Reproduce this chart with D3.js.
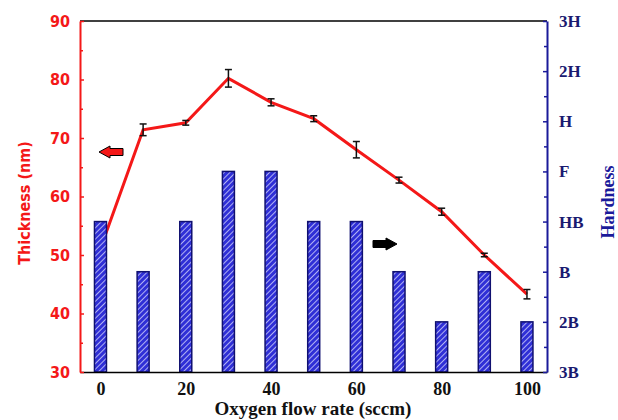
<!DOCTYPE html>
<html><head><meta charset="utf-8">
<script src="https://cdn.jsdelivr.net/npm/d3@7"></script>
<style>body{margin:0;background:#fff}svg{display:block}
.serif{font-family:"Liberation Serif","Times New Roman","DejaVu Serif",serif;font-weight:bold}</style>
</head><body>
<svg id="c" width="618" height="420"></svg>
<script>
const flow = [0,10,20,30,40,50,60,70,80,90,100];
const thickness = [51.1,71.4,72.6,80.2,76.1,73.3,68.0,62.8,57.4,50.0,43.3];
const thicknessErr = [0.8,1.0,0.4,1.5,0.6,0.5,1.4,0.5,0.6,0.3,0.8];
const hardnessLevels = ["3B","2B","B","HB","F","H","2H","3H"];
const hardness = ["HB","B","HB","F","F","HB","HB","B","2B","B","2B"];
const xTicks = [0,20,40,60,80,100];
const yTicks = [30,40,50,60,70,80,90];

const L=80,R=547,T=21,B=372;
const svg=d3.select("#c");
const x=d3.scaleLinear().domain([-4.8,104.7]).range([L,R]);
const y=d3.scaleLinear().domain([30,90]).range([B,T]);
const h=d3.scaleLinear().domain([0,hardnessLevels.length-1]).range([B,T]);
const RED="#f41818", NAVY="#1a1a9a";

const defs=svg.append("defs");
const pat=defs.append("pattern").attr("id","hatch").attr("patternUnits","userSpaceOnUse")
 .attr("width",4).attr("height",4).attr("patternTransform","rotate(45)");
pat.append("rect").attr("width",4).attr("height",4).attr("fill","#2f2fd6");
pat.append("line").attr("x1",0).attr("y1",0).attr("x2",0).attr("y2",4).attr("stroke","#e8e8ff").attr("stroke-width",1.4);

svg.append("line").attr("x1",L).attr("x2",R).attr("y1",T).attr("y2",T).attr("stroke","#000").attr("stroke-width",1.5);

const line=d3.line().x((d,i)=>x(flow[i])).y(d=>y(d));
svg.append("path").datum(thickness).attr("d",line).attr("fill","none").attr("stroke",RED).attr("stroke-width",3);

const eb=svg.append("g").attr("stroke","#111").attr("stroke-width",1.5);
thickness.forEach((v,i)=>{
  const cx=x(flow[i]), y1=y(v-thicknessErr[i]), y2=y(v+thicknessErr[i]);
  eb.append("line").attr("x1",cx).attr("x2",cx).attr("y1",y1).attr("y2",y2);
  eb.append("line").attr("x1",cx-3.5).attr("x2",cx+3.5).attr("y1",y1).attr("y2",y1);
  eb.append("line").attr("x1",cx-3.5).attr("x2",cx+3.5).attr("y1",y2).attr("y2",y2);
});

const bw=12;
svg.append("g").selectAll("rect").data(hardness).join("rect")
 .attr("x",(d,i)=>x(flow[i])-bw/2).attr("width",bw)
 .attr("y",d=>h(hardnessLevels.indexOf(d))).attr("height",d=>B-h(hardnessLevels.indexOf(d)))
 .attr("fill","url(#hatch)").attr("stroke","#101070").attr("stroke-width",1.5);

const xa=svg.append("g").attr("transform",`translate(0,${B})`)
 .call(d3.axisBottom(x).tickValues(xTicks).tickSize(0).tickPadding(10));
xa.select(".domain").attr("stroke","#000").attr("stroke-width",1.5);
xa.attr("font-family",null);
xa.selectAll("text").attr("class","serif").attr("font-size",18).attr("fill","#111");

const ya=svg.append("g").attr("transform",`translate(${L},0)`)
 .call(d3.axisLeft(y).tickValues(yTicks).tickSize(-4).tickPadding(10).tickSizeOuter(0));
ya.select(".domain").attr("stroke",RED).attr("stroke-width",2);
ya.selectAll(".tick line").attr("stroke",RED).attr("stroke-width",1.5);
ya.attr("font-family","DejaVu Sans Condensed");
ya.selectAll("text").attr("font-weight","bold").attr("font-size",16).attr("fill",RED);
const yMinor=svg.append("g").attr("transform",`translate(${L},0)`)
 .call(d3.axisLeft(y).tickValues([35,45,55,65,75,85]).tickSize(-3).tickFormat(""));
yMinor.select(".domain").remove();
yMinor.selectAll("line").attr("stroke",RED).attr("stroke-width",1.5);

const ra=svg.append("g").attr("transform",`translate(${R},0)`)
 .call(d3.axisRight(h).tickValues(d3.range(hardnessLevels.length)).tickFormat(i=>hardnessLevels[i]).tickSize(-4).tickPadding(12).tickSizeOuter(0));
ra.select(".domain").attr("stroke",NAVY).attr("stroke-width",2);
ra.selectAll(".tick line").attr("stroke",NAVY).attr("stroke-width",1.5);
ra.attr("font-family",null);
ra.selectAll("text").attr("class","serif").attr("font-size",17).attr("fill","#1a1a70");
const rMinor=svg.append("g").attr("transform",`translate(${R},0)`)
 .call(d3.axisRight(h).tickValues(d3.range(0.5,hardnessLevels.length-1,1)).tickSize(-3).tickFormat(""));
rMinor.select(".domain").remove();
rMinor.selectAll("line").attr("stroke",NAVY).attr("stroke-width",1.5);

svg.append("text").attr("class","serif").attr("x",313).attr("y",415).attr("text-anchor","middle")
 .attr("font-size",19).attr("fill","#111").text("Oxygen flow rate (sccm)");
svg.append("text").attr("transform","translate(30,203) rotate(-90)").attr("text-anchor","middle")
 .attr("font-family","DejaVu Sans Condensed").attr("font-weight","bold").attr("font-size",16).attr("fill",RED)
 .text("Thickness (nm)");
svg.append("text").attr("class","serif").attr("transform","translate(614,202) rotate(-90)").attr("text-anchor","middle")
 .attr("font-size",18).attr("fill",NAVY).text("Hardness");

function arrow(cx,cy,dir,fill){
  const p=[[-12,-3.5],[1,-3.5],[1,-6],[12,0],[1,6],[1,3.5],[-12,3.5]].map(([a,b])=>[cx+dir*a,cy+b]);
  svg.append("path").attr("d",d3.line()(p)+"Z").attr("fill",fill).attr("stroke","#000").attr("stroke-width",1);
}
arrow(111,152,-1,RED);
arrow(385,244,1,"#000");
</script>
</body></html>
